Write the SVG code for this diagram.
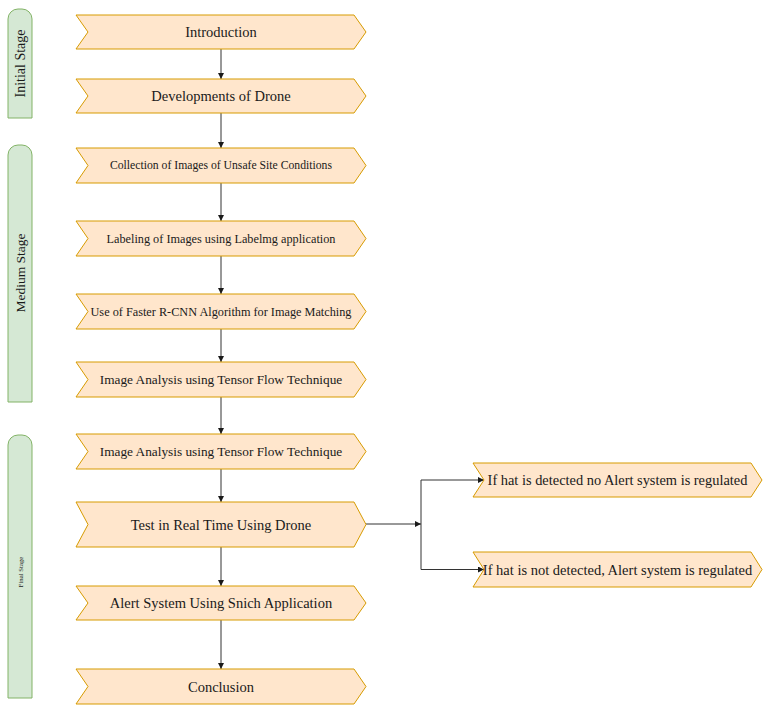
<svg xmlns="http://www.w3.org/2000/svg" width="769" height="711" viewBox="0 0 769 711">
<style>
.step{fill:#ffe6cc;stroke:#d79b00;stroke-width:1}
.stage{fill:#d5e8d4;stroke:#82b366;stroke-width:1}
.t{font-family:"Liberation Serif","Times New Roman",serif;fill:#1a1a1a;text-anchor:middle;dominant-baseline:central}
.e{fill:none;stroke:#333333;stroke-width:1}
</style>
<defs>
<marker id="ah" viewBox="0 0 10 10" refX="10" refY="5" markerWidth="6" markerHeight="6" orient="auto" markerUnits="userSpaceOnUse">
<path d="M0,0 L10,5 L0,10 Z" fill="#1a1a1a"/>
</marker>
</defs>
<rect width="769" height="711" fill="#ffffff"/>

<g id="stage-initial">
<path class="stage" d="M8,118 V19 A10,10 0 0 1 18,9 H22 A10,10 0 0 1 32,19 V118 Z"/>
<text class="t" font-size="14" transform="translate(20.5,63.5) rotate(-90)">Initial Stage</text>
</g>
<g id="stage-medium">
<path class="stage" d="M8,402 V155 A10,10 0 0 1 18,145 H22 A10,10 0 0 1 32,155 V402 Z"/>
<text class="t" font-size="13.5" transform="translate(20.5,273) rotate(-90)">Medium Stage</text>
</g>
<g id="stage-final">
<path class="stage" d="M8,698 V445 A10,10 0 0 1 18,435 H22 A10,10 0 0 1 32,445 V698 Z"/>
<text class="t" font-size="6.8" transform="translate(20.5,572) rotate(-90)">Final Stage</text>
</g>

<g id="connectors">
<line class="e" x1="221" y1="49" x2="221" y2="79" marker-end="url(#ah)"/>
<line class="e" x1="221" y1="113" x2="221" y2="148" marker-end="url(#ah)"/>
<line class="e" x1="221" y1="183" x2="221" y2="221" marker-end="url(#ah)"/>
<line class="e" x1="221" y1="256" x2="221" y2="294" marker-end="url(#ah)"/>
<line class="e" x1="221" y1="329" x2="221" y2="362" marker-end="url(#ah)"/>
<line class="e" x1="221" y1="397" x2="221" y2="434" marker-end="url(#ah)"/>
<line class="e" x1="221" y1="469" x2="221" y2="502" marker-end="url(#ah)"/>
<line class="e" x1="221" y1="547" x2="221" y2="586" marker-end="url(#ah)"/>
<line class="e" x1="221" y1="620" x2="221" y2="669" marker-end="url(#ah)"/>
<line class="e" x1="366" y1="524" x2="421" y2="524" marker-end="url(#ah)"/>
<path class="e" d="M421,524 V480 H484" marker-end="url(#ah)"/>
<path class="e" d="M421,524 V569.5 H484" marker-end="url(#ah)"/>
</g>

<g id="n-introduction">
<path class="step" d="M76,15 H354 L366,32 L354,49 H76 L88,32 Z"/>
<text class="t" x="221" y="32" font-size="14.5">Introduction</text>
</g>
<g id="n-developments">
<path class="step" d="M76,79 H354 L366,96 L354,113 H76 L88,96 Z"/>
<text class="t" x="221" y="96" font-size="14.5">Developments of Drone</text>
</g>
<g id="n-collection">
<path class="step" d="M76,148 H354 L366,165.5 L354,183 H76 L88,165.5 Z"/>
<text class="t" x="221" y="165.5" font-size="11.7">Collection of Images of Unsafe Site Conditions</text>
</g>
<g id="n-labeling">
<path class="step" d="M76,221 H354 L366,238.5 L354,256 H76 L88,238.5 Z"/>
<text class="t" x="221" y="238.5" font-size="12.25">Labeling of Images using Labelmg application</text>
</g>
<g id="n-faster">
<path class="step" d="M76,294 H354 L366,311.5 L354,329 H76 L88,311.5 Z"/>
<text class="t" x="221" y="311.5" font-size="12.25">Use of Faster R-CNN Algorithm for Image Matching</text>
</g>
<g id="n-analysis1">
<path class="step" d="M76,362 H354 L366,379.5 L354,397 H76 L88,379.5 Z"/>
<text class="t" x="221" y="379.5" font-size="13.3">Image Analysis using Tensor Flow Technique</text>
</g>
<g id="n-analysis2">
<path class="step" d="M76,434 H354 L366,451.5 L354,469 H76 L88,451.5 Z"/>
<text class="t" x="221" y="451.5" font-size="13.3">Image Analysis using Tensor Flow Technique</text>
</g>
<g id="n-test">
<path class="step" d="M76,502 H354 L366,524.5 L354,547 H76 L88,524.5 Z"/>
<text class="t" x="221" y="524.5" font-size="14.5">Test in Real Time Using Drone</text>
</g>
<g id="n-alert">
<path class="step" d="M76,586 H354 L366,603 L354,620 H76 L88,603 Z"/>
<text class="t" x="221" y="603" font-size="14.5">Alert System Using Snich Application</text>
</g>
<g id="n-conclusion">
<path class="step" d="M76,669 H354 L366,686.5 L354,704 H76 L88,686.5 Z"/>
<text class="t" x="221" y="686.5" font-size="14.5">Conclusion</text>
</g>
<g id="n-hat-detected">
<path class="step" d="M473,463 H751 L762,480 L751,497 H473 L484,480 Z"/>
<text class="t" x="617.5" y="480" font-size="14.4">If hat is detected no Alert system is regulated</text>
</g>
<g id="n-hat-not-detected">
<path class="step" d="M473,552 H751 L762,569.5 L751,587 H473 L484,569.5 Z"/>
<text class="t" x="617.5" y="569.5" font-size="14.5">If hat is not detected, Alert system is regulated</text>
</g>
</svg>
